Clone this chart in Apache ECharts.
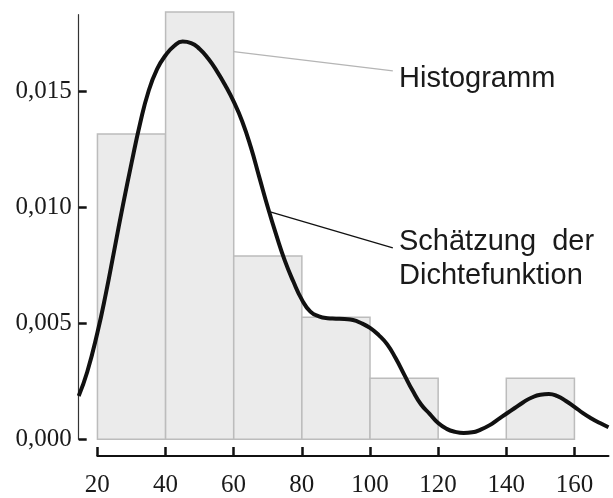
<!DOCTYPE html>
<html>
<head>
<meta charset="utf-8">
<script src="https://cdn.jsdelivr.net/npm/echarts@6/dist/echarts.min.js"></script>
<style>
  html, body { margin: 0; padding: 0; background: #fff; }
  #chart { width: 613px; height: 498px; }
</style>
</head>
<body>
<div id="chart"></div>
<script>
// Histogram bins: [lower edge, upper edge, density]
const binLower = [20, 40, 60, 80, 100, 120, 140];
const binUpper = [40, 60, 80, 100, 120, 140, 160];
const binDensity = [0.013158, 0.018421, 0.007895, 0.005263, 0.002632, 0, 0.002632];

// Kernel density estimate, sampled along x
const kdeX = [14.5, 17, 20, 22.5, 25, 27.5, 30, 32.5, 35, 37.5, 40, 42.5, 45, 47.5, 50,
  52.5, 55, 57.5, 60, 62.5, 65, 67.5, 70, 72.5, 75, 77.5, 80, 82.5, 85, 87.5, 90,
  92.5, 95, 97.5, 100, 102.5, 105, 107.5, 110, 112.5, 115, 117.5, 120, 122.5, 125,
  127.5, 130, 132.5, 135, 137.5, 140, 142.5, 145, 147.5, 150, 152.5, 155, 157.5,
  160, 162.5, 165, 167.5, 170];
const kdeY = [0.00187, 0.0029, 0.0046, 0.0063, 0.0082, 0.0101, 0.0119, 0.0136, 0.0150,
  0.01595, 0.01655, 0.01695, 0.01714, 0.01708, 0.01682, 0.01641, 0.01588, 0.01526, 0.01455,
  0.0137, 0.0126, 0.0113, 0.0100, 0.0088, 0.0077, 0.0068, 0.00602, 0.0055, 0.0053,
  0.00522, 0.0052, 0.00518, 0.00514, 0.0050, 0.0048, 0.0045, 0.0041, 0.0035, 0.0028,
  0.0021, 0.0015, 0.0011, 0.0007, 0.00045, 0.00032, 0.00027, 0.0003, 0.00042, 0.0006,
  0.00085, 0.0011, 0.00135, 0.0016, 0.0018, 0.00192, 0.00195, 0.00186, 0.00165, 0.0014,
  0.00113, 0.0009, 0.0007, 0.00052];

// Axis tick positions
const xTicks = [20, 40, 60, 80, 100, 120, 140, 160];
const yTicks = [0, 0.005, 0.010, 0.015];

// Annotation texts
const histLabel = 'Histogramm';
const kdeLabel = ['Schätzung  der', 'Dichtefunktion'];

const chart = echarts.init(document.getElementById('chart'), null, { renderer: 'canvas' });

const bins = binLower.map((lo, i) => [lo, binUpper[i], binDensity[i]]);
const curve = kdeX.map((x, i) => [x, kdeY[i]]);

const serif = '"Liberation Serif", "Times New Roman", serif';
const sans = '"Liberation Sans", Arial, sans-serif';

chart.setOption({
  animation: false,
  backgroundColor: '#ffffff',
  grid: [
    { left: 78.7, right: 4.5, top: 14.7, bottom: 58.7 },
    { left: 97.3, right: 4.5, bottom: 41.3, height: 5 }
  ],
  xAxis: [
    {
      gridIndex: 0, type: 'value', min: 14.5, max: 170,
      axisLine: { show: false }, axisTick: { show: false },
      axisLabel: { show: false }, splitLine: { show: false }
    },
    {
      gridIndex: 1, type: 'value', min: 20, max: 170, position: 'bottom',
      axisLine: { show: true, lineStyle: { color: '#111', width: 2 } },
      axisTick: { show: true, inside: true, length: 9, customValues: xTicks,
        lineStyle: { color: '#111', width: 2.5 } },
      axisLabel: { show: true, customValues: xTicks, margin: 17,
        fontFamily: serif, fontSize: 25, color: '#1a1a1a' },
      splitLine: { show: false }
    }
  ],
  yAxis: [
    {
      gridIndex: 0, type: 'value', min: 0, max: 0.0183,
      axisLine: { show: true, lineStyle: { color: '#333', width: 1.2 } },
      axisTick: { show: true, inside: true, length: 8, customValues: yTicks,
        lineStyle: { color: '#111', width: 2.5 } },
      axisLabel: { show: true, customValues: yTicks, margin: 7,
        fontFamily: serif, fontSize: 25, color: '#1a1a1a',
        formatter: v => v.toFixed(3).replace('.', ',') },
      splitLine: { show: false }
    },
    {
      gridIndex: 1, type: 'value', show: false
    }
  ],
  series: [
    {
      type: 'custom',
      xAxisIndex: 0, yAxisIndex: 0,
      clip: false,
      data: bins,
      encode: { x: [0, 1], y: 2 },
      renderItem(params, api) {
        const topLeft = api.coord([api.value(0), api.value(2)]);
        const bottomRight = api.coord([api.value(1), 0]);
        return {
          type: 'rect',
          shape: {
            x: topLeft[0], y: topLeft[1],
            width: bottomRight[0] - topLeft[0],
            height: bottomRight[1] - topLeft[1]
          },
          style: { fill: '#ebebeb', stroke: '#bcbcbc', lineWidth: 1.5 }
        };
      },
      z: 1
    },
    {
      type: 'line',
      xAxisIndex: 0, yAxisIndex: 0,
      data: curve,
      smooth: true,
      symbol: 'none',
      lineStyle: { color: '#111', width: 4 },
      z: 3,
      markLine: {
        silent: true,
        symbol: 'none',
        label: { show: false },
        data: [
          [
            { coord: [60, 0.01671], lineStyle: { color: '#b5b5b5', width: 1.3, type: 'solid' } },
            { coord: [106.7, 0.01588] }
          ],
          [
            { coord: [70.7, 0.0098], lineStyle: { color: '#111', width: 1.3, type: 'solid' } },
            { coord: [106.7, 0.00825] }
          ]
        ]
      }
    }
  ],
  graphic: [
    { type: 'text', left: 399, top: 64,
      style: { text: histLabel, font: '29px ' + sans, fill: '#1a1a1a' } },
    { type: 'text', left: 399, top: 227.5,
      style: { text: kdeLabel[0], font: '29px ' + sans, fill: '#1a1a1a' } },
    { type: 'text', left: 399, top: 261,
      style: { text: kdeLabel[1], font: '29px ' + sans, fill: '#1a1a1a' } }
  ]
});
</script>
</body>
</html>
